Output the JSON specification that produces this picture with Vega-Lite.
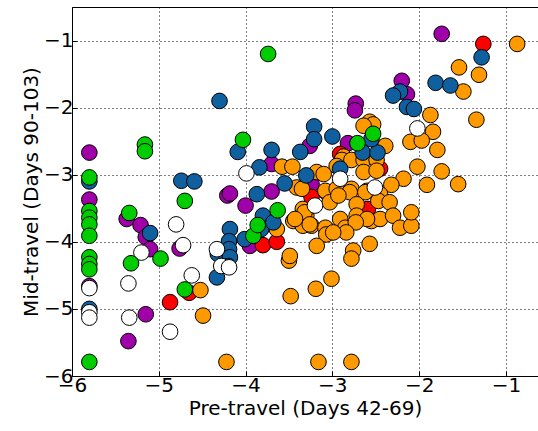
{
  "$schema": "https://vega.github.io/schema/vega-lite/v6.json",
  "width": 466,
  "height": 369,
  "autosize": {"type": "none"},
  "padding": {"left": 72, "top": 7, "right": 0, "bottom": 55},
  "background": "white",
  "config": {
    "view": {"stroke": "black", "strokeWidth": 1},
    "font": "DejaVu Sans",
    "axis": {
      "labelFont": "DejaVu Sans",
      "labelFontSize": 20,
      "labelColor": "black",
      "titleFont": "DejaVu Sans",
      "titleFontSize": 20,
      "titleFontWeight": "normal",
      "titleColor": "black",
      "domain": false,
      "grid": true,
      "gridColor": "black",
      "gridOpacity": 1,
      "gridWidth": 1,
      "gridDash": [1, 3],
      "ticks": true,
      "tickColor": "black",
      "tickSize": -5,
      "labelFlush": false,
      "labelOverlap": false
    }
  },
  "data": {
    "values": [
      {"x": -5.80, "y": -2.67, "c": "purple"},
      {"x": -5.80, "y": -3.37, "c": "purple"},
      {"x": -5.80, "y": -4.66, "c": "purple"},
      {"x": -5.37, "y": -3.66, "c": "purple"},
      {"x": -5.21, "y": -3.75, "c": "purple"},
      {"x": -5.15, "y": -3.93, "c": "purple"},
      {"x": -5.10, "y": -4.11, "c": "purple"},
      {"x": -5.15, "y": -5.08, "c": "purple"},
      {"x": -5.35, "y": -5.48, "c": "purple"},
      {"x": -4.76, "y": -4.10, "c": "purple"},
      {"x": -4.21, "y": -3.31, "c": "purple"},
      {"x": -4.18, "y": -3.28, "c": "purple"},
      {"x": -4.00, "y": -3.46, "c": "purple"},
      {"x": -3.95, "y": -4.06, "c": "purple"},
      {"x": -3.70, "y": -2.84, "c": "purple"},
      {"x": -3.70, "y": -3.25, "c": "purple"},
      {"x": -1.74, "y": -0.90, "c": "purple"},
      {"x": -2.20, "y": -1.60, "c": "purple"},
      {"x": -2.14, "y": -1.80, "c": "purple"},
      {"x": -2.73, "y": -1.94, "c": "purple"},
      {"x": -2.74, "y": -2.04, "c": "purple"},
      {"x": -3.26, "y": -2.57, "c": "purple"},
      {"x": -2.82, "y": -2.53, "c": "purple"},
      {"x": -3.24, "y": -3.14, "c": "purple"},
      {"x": -4.87, "y": -4.90, "c": "red"},
      {"x": -4.65, "y": -4.76, "c": "red"},
      {"x": -3.80, "y": -4.05, "c": "red"},
      {"x": -3.64, "y": -4.00, "c": "red"},
      {"x": -1.26, "y": -1.05, "c": "red"},
      {"x": -2.91, "y": -2.69, "c": "red"},
      {"x": -2.45, "y": -2.91, "c": "red"},
      {"x": -2.59, "y": -3.51, "c": "red"},
      {"x": -3.24, "y": -3.33, "c": "red"},
      {"x": -4.52, "y": -4.72, "c": "orange"},
      {"x": -4.49, "y": -5.10, "c": "orange"},
      {"x": -4.22, "y": -5.79, "c": "orange"},
      {"x": -3.64, "y": -3.81, "c": "orange"},
      {"x": -3.34, "y": -3.51, "c": "orange"},
      {"x": -3.34, "y": -3.71, "c": "orange"},
      {"x": -3.50, "y": -4.28, "c": "orange"},
      {"x": -3.48, "y": -4.81, "c": "orange"},
      {"x": -3.19, "y": -4.70, "c": "orange"},
      {"x": -3.58, "y": -2.88, "c": "orange"},
      {"x": -3.46, "y": -2.88, "c": "orange"},
      {"x": -3.41, "y": -3.19, "c": "orange"},
      {"x": -3.35, "y": -3.21, "c": "orange"},
      {"x": -3.18, "y": -2.96, "c": "orange"},
      {"x": -3.45, "y": -3.69, "c": "orange"},
      {"x": -3.30, "y": -3.61, "c": "orange"},
      {"x": -3.34, "y": -3.76, "c": "orange"},
      {"x": -3.24, "y": -3.76, "c": "orange"},
      {"x": -3.49, "y": -4.21, "c": "orange"},
      {"x": -0.87, "y": -1.05, "c": "orange"},
      {"x": -1.54, "y": -1.40, "c": "orange"},
      {"x": -1.31, "y": -1.51, "c": "orange"},
      {"x": -1.49, "y": -1.76, "c": "orange"},
      {"x": -1.34, "y": -2.18, "c": "orange"},
      {"x": -1.87, "y": -2.11, "c": "orange"},
      {"x": -1.84, "y": -2.36, "c": "orange"},
      {"x": -2.10, "y": -2.51, "c": "orange"},
      {"x": -1.97, "y": -2.49, "c": "orange"},
      {"x": -1.79, "y": -2.63, "c": "orange"},
      {"x": -2.02, "y": -2.88, "c": "orange"},
      {"x": -1.74, "y": -2.95, "c": "orange"},
      {"x": -1.55, "y": -3.14, "c": "orange"},
      {"x": -1.91, "y": -3.15, "c": "orange"},
      {"x": -2.18, "y": -3.06, "c": "orange"},
      {"x": -2.32, "y": -3.15, "c": "orange"},
      {"x": -2.57, "y": -2.21, "c": "orange"},
      {"x": -2.53, "y": -2.25, "c": "orange"},
      {"x": -2.39, "y": -2.57, "c": "orange"},
      {"x": -2.64, "y": -2.27, "c": "orange"},
      {"x": -2.87, "y": -2.73, "c": "orange"},
      {"x": -2.89, "y": -2.78, "c": "orange"},
      {"x": -2.78, "y": -2.78, "c": "orange"},
      {"x": -2.64, "y": -2.78, "c": "orange"},
      {"x": -2.49, "y": -2.78, "c": "orange"},
      {"x": -2.95, "y": -2.87, "c": "orange"},
      {"x": -2.64, "y": -2.96, "c": "orange"},
      {"x": -2.49, "y": -2.94, "c": "orange"},
      {"x": -3.10, "y": -2.99, "c": "orange"},
      {"x": -3.07, "y": -3.26, "c": "orange"},
      {"x": -2.93, "y": -3.29, "c": "orange"},
      {"x": -2.78, "y": -3.21, "c": "orange"},
      {"x": -2.60, "y": -3.24, "c": "orange"},
      {"x": -2.45, "y": -3.29, "c": "orange"},
      {"x": -3.08, "y": -3.24, "c": "orange"},
      {"x": -2.95, "y": -3.21, "c": "orange"},
      {"x": -2.80, "y": -3.26, "c": "orange"},
      {"x": -2.62, "y": -3.26, "c": "orange"},
      {"x": -2.47, "y": -3.39, "c": "orange"},
      {"x": -2.34, "y": -3.41, "c": "orange"},
      {"x": -3.32, "y": -3.56, "c": "orange"},
      {"x": -3.43, "y": -3.66, "c": "orange"},
      {"x": -3.26, "y": -3.74, "c": "orange"},
      {"x": -3.08, "y": -3.79, "c": "orange"},
      {"x": -3.07, "y": -3.89, "c": "orange"},
      {"x": -2.91, "y": -3.66, "c": "orange"},
      {"x": -2.85, "y": -3.79, "c": "orange"},
      {"x": -2.72, "y": -3.44, "c": "orange"},
      {"x": -2.72, "y": -3.61, "c": "orange"},
      {"x": -2.55, "y": -3.69, "c": "orange"},
      {"x": -2.45, "y": -3.66, "c": "orange"},
      {"x": -2.30, "y": -3.61, "c": "orange"},
      {"x": -2.22, "y": -3.79, "c": "orange"},
      {"x": -2.09, "y": -3.76, "c": "orange"},
      {"x": -2.09, "y": -3.56, "c": "orange"},
      {"x": -3.03, "y": -3.41, "c": "orange"},
      {"x": -2.93, "y": -3.31, "c": "orange"},
      {"x": -3.18, "y": -4.06, "c": "orange"},
      {"x": -2.76, "y": -4.13, "c": "orange"},
      {"x": -2.57, "y": -4.03, "c": "orange"},
      {"x": -2.78, "y": -4.25, "c": "orange"},
      {"x": -3.01, "y": -4.55, "c": "orange"},
      {"x": -3.16, "y": -5.79, "c": "orange"},
      {"x": -2.78, "y": -5.79, "c": "orange"},
      {"x": -2.60, "y": -3.66, "c": "orange"},
      {"x": -2.73, "y": -3.71, "c": "orange"},
      {"x": -2.84, "y": -3.86, "c": "orange"},
      {"x": -2.99, "y": -3.86, "c": "orange"},
      {"x": -4.30, "y": -1.90, "c": "blue"},
      {"x": -4.09, "y": -2.66, "c": "blue"},
      {"x": -3.70, "y": -2.63, "c": "blue"},
      {"x": -3.37, "y": -2.66, "c": "blue"},
      {"x": -3.21, "y": -2.28, "c": "blue"},
      {"x": -3.21, "y": -2.47, "c": "blue"},
      {"x": -3.00, "y": -2.43, "c": "blue"},
      {"x": -3.84, "y": -2.89, "c": "blue"},
      {"x": -3.55, "y": -3.13, "c": "blue"},
      {"x": -3.30, "y": -3.01, "c": "blue"},
      {"x": -4.74, "y": -3.09, "c": "blue"},
      {"x": -4.59, "y": -3.10, "c": "blue"},
      {"x": -5.80, "y": -3.10, "c": "blue"},
      {"x": -3.87, "y": -3.29, "c": "blue"},
      {"x": -5.10, "y": -3.87, "c": "blue"},
      {"x": -4.18, "y": -3.81, "c": "blue"},
      {"x": -4.19, "y": -3.99, "c": "blue"},
      {"x": -4.19, "y": -4.11, "c": "blue"},
      {"x": -4.32, "y": -4.18, "c": "blue"},
      {"x": -4.18, "y": -4.23, "c": "blue"},
      {"x": -4.20, "y": -4.36, "c": "blue"},
      {"x": -4.33, "y": -4.53, "c": "blue"},
      {"x": -4.01, "y": -3.96, "c": "blue"},
      {"x": -3.80, "y": -3.61, "c": "blue"},
      {"x": -3.82, "y": -3.81, "c": "blue"},
      {"x": -3.68, "y": -3.71, "c": "blue"},
      {"x": -1.28, "y": -1.25, "c": "blue"},
      {"x": -1.81, "y": -1.63, "c": "blue"},
      {"x": -1.64, "y": -1.67, "c": "blue"},
      {"x": -2.22, "y": -1.76, "c": "blue"},
      {"x": -2.30, "y": -1.82, "c": "blue"},
      {"x": -2.14, "y": -1.99, "c": "blue"},
      {"x": -2.06, "y": -2.02, "c": "blue"},
      {"x": -2.65, "y": -2.67, "c": "blue"},
      {"x": -2.48, "y": -2.67, "c": "blue"},
      {"x": -2.55, "y": -2.47, "c": "blue"},
      {"x": -2.91, "y": -2.91, "c": "blue"},
      {"x": -5.80, "y": -5.00, "c": "blue"},
      {"x": -5.80, "y": -4.69, "c": "white"},
      {"x": -5.80, "y": -5.05, "c": "white"},
      {"x": -5.80, "y": -5.13, "c": "white"},
      {"x": -5.20, "y": -4.16, "c": "white"},
      {"x": -5.35, "y": -4.62, "c": "white"},
      {"x": -5.34, "y": -5.13, "c": "white"},
      {"x": -4.87, "y": -5.34, "c": "white"},
      {"x": -4.80, "y": -3.74, "c": "white"},
      {"x": -4.72, "y": -4.05, "c": "white"},
      {"x": -4.62, "y": -4.50, "c": "white"},
      {"x": -4.33, "y": -4.11, "c": "white"},
      {"x": -4.28, "y": -4.36, "c": "white"},
      {"x": -4.19, "y": -4.38, "c": "white"},
      {"x": -3.99, "y": -2.98, "c": "white"},
      {"x": -2.02, "y": -2.31, "c": "white"},
      {"x": -2.91, "y": -3.06, "c": "white"},
      {"x": -2.51, "y": -3.19, "c": "white"},
      {"x": -3.20, "y": -3.46, "c": "white"},
      {"x": -3.74, "y": -1.20, "c": "green"},
      {"x": -5.16, "y": -2.55, "c": "green"},
      {"x": -5.16, "y": -2.65, "c": "green"},
      {"x": -4.03, "y": -2.48, "c": "green"},
      {"x": -5.80, "y": -3.04, "c": "green"},
      {"x": -5.80, "y": -3.54, "c": "green"},
      {"x": -5.80, "y": -3.64, "c": "green"},
      {"x": -5.80, "y": -3.74, "c": "green"},
      {"x": -5.80, "y": -3.91, "c": "green"},
      {"x": -5.80, "y": -4.23, "c": "green"},
      {"x": -5.80, "y": -4.33, "c": "green"},
      {"x": -5.80, "y": -4.41, "c": "green"},
      {"x": -5.80, "y": -5.79, "c": "green"},
      {"x": -5.34, "y": -3.57, "c": "green"},
      {"x": -4.98, "y": -4.25, "c": "green"},
      {"x": -5.32, "y": -4.32, "c": "green"},
      {"x": -4.70, "y": -3.39, "c": "green"},
      {"x": -4.70, "y": -4.71, "c": "green"},
      {"x": -3.91, "y": -3.91, "c": "green"},
      {"x": -3.86, "y": -3.75, "c": "green"},
      {"x": -3.63, "y": -3.53, "c": "green"},
      {"x": -2.53, "y": -2.39, "c": "green"},
      {"x": -2.71, "y": -2.53, "c": "green"}
    ]
  },
  "mark": {"type": "point", "shape": "circle", "filled": true, "size": 245, "stroke": "black", "strokeWidth": 1, "opacity": 1},
  "encoding": {
    "x": {
      "field": "x", "type": "quantitative",
      "scale": {"domain": [-6, -0.63], "nice": false, "zero": false},
      "axis": {"values": [-6, -5, -4, -3, -2, -1], "title": "Pre-travel (Days 42-69)", "labelPadding": 4, "titlePadding": 3}
    },
    "y": {
      "field": "y", "type": "quantitative",
      "scale": {"domain": [-6, -0.5], "nice": false, "zero": false},
      "axis": {"values": [-6, -5, -4, -3, -2, -1], "title": "Mid-travel (Days 90-103)", "labelPadding": 4, "titlePadding": 2}
    },
    "fill": {
      "field": "c", "type": "nominal", "legend": null,
      "scale": {
        "domain": ["purple", "red", "orange", "blue", "white", "green"],
        "range": ["#A000A8", "#FF0000", "#FF9900", "#1060A0", "#FFFFFF", "#00CC00"]
      }
    }
  }
}
